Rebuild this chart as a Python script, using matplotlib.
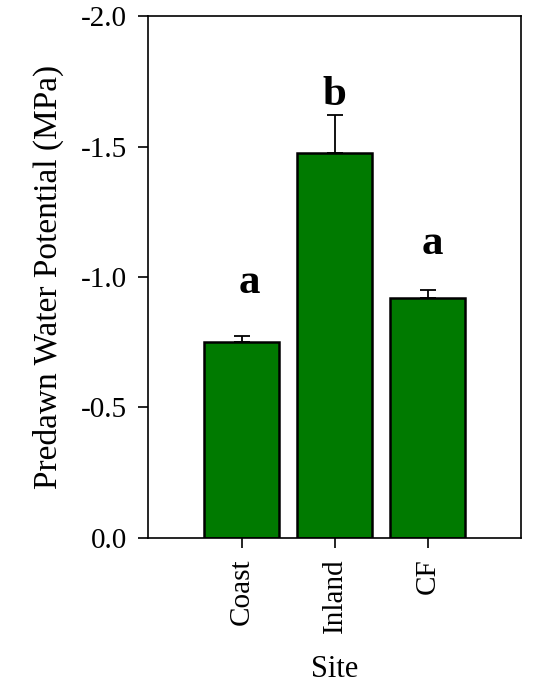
import matplotlib
matplotlib.use("Agg")
import matplotlib.pyplot as plt
import numpy as np

sites = ["Coast", "Inland", "CF"]
means = [-0.752, -1.476, -0.921]
errors = [0.021, 0.145, 0.030]
letters = ["a", "b", "a"]
letter_y = [-0.938, -1.66, -1.09]
letter_dx = [0.085, 0.0, 0.055]
yticks = [0.0, -0.5, -1.0, -1.5, -2.0]

plt.rcParams['font.family'] = ['Liberation Serif', 'DejaVu Serif']

fig = plt.figure(figsize=(5.39, 6.84), dpi=100)
ax = fig.add_axes([0.2755, 0.2139, 0.966 - 0.2755, 0.9759 - 0.2139])

x = np.arange(len(sites))
ax.bar(x, means, width=0.8, color="#007a00", edgecolor="black", linewidth=1.8, zorder=2)
ax.errorbar(x, means, yerr=[errors, [0]*len(errors)], fmt="none", ecolor="black",
            elinewidth=1.3, capsize=6, capthick=1.3, zorder=1)

for xi, dx, ly, lt in zip(x, letter_dx, letter_y, letters):
    ax.text(xi + dx, ly, lt, ha="center", va="baseline", fontsize=31, fontweight="bold")

ax.set_xlim(-1, 3)
ax.set_ylim(0, -2.0)
ax.set_yticks(yticks)
ax.set_yticklabels([f"{v:.1f}" for v in yticks])
ax.set_xticks(x)
ax.set_xticklabels(sites, rotation=90)
ax.tick_params(axis="y", labelsize=21, direction="out", length=7, width=1.2, pad=8.5)
ax.tick_params(axis="x", labelsize=21, direction="out", length=7, width=1.2, pad=8)
for s in ax.spines.values():
    s.set_linewidth(1.2)
ax.set_ylabel("Predawn Water Potential (MPa)", fontsize=24, labelpad=12)
ax.set_xlabel("Site", fontsize=22, labelpad=16)

fig.savefig("out.png", dpi=100)
